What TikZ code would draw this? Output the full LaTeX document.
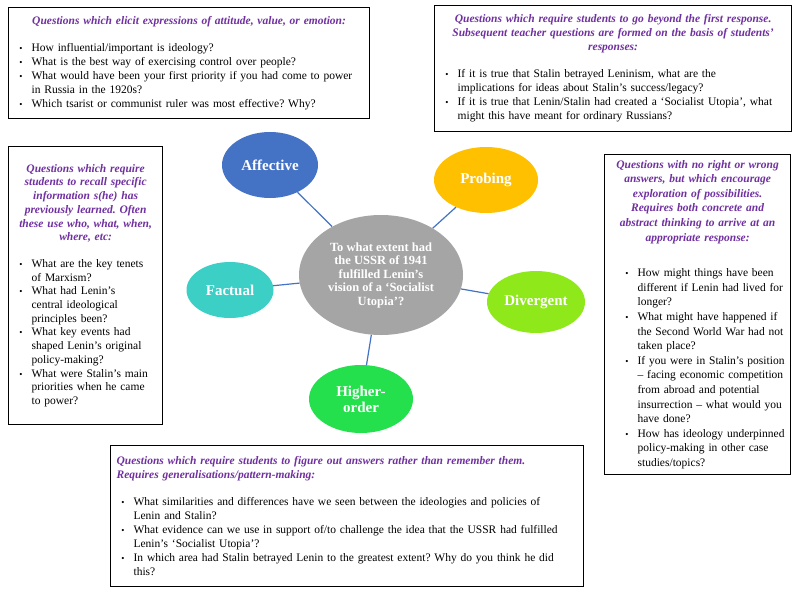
\documentclass[tikz,border=0pt]{standalone}
\usepackage{fontspec}
\setmainfont{Liberation Serif}
\usepackage{enumitem}
\usetikzlibrary{shapes.geometric}
\frenchspacing

\definecolor{qpurple}{HTML}{7030A0}
\definecolor{affblue}{HTML}{4472C4}
\definecolor{probegold}{HTML}{FFC000}
\definecolor{ctrgray}{HTML}{A5A5A5}
\definecolor{factteal}{HTML}{3CCFC6}
\definecolor{divlime}{HTML}{8EE81A}
\definecolor{highgreen}{HTML}{24E04C}

\newlist{qlist}{itemize}{1}
\setlist[qlist]{label={\small\textbullet}, leftmargin=17pt, labelsep=9pt,
  itemsep=0pt, parsep=0pt, topsep=0pt, partopsep=0pt}
\newcommand{\qhead}[1]{{\centering\color{qpurple}\bfseries\itshape #1\par}\vspace{13pt}}
\newcommand{\qheadl}[1]{{\color{qpurple}\bfseries\itshape #1\par}\vspace{13pt}}

\tikzset{
  qbox/.style={draw=black, line width=1.2pt, fill=white, anchor=north west,
    inner xsep=6pt, inner ysep=3pt, align=left,
    font=\fontsize{11.5}{14}\selectfont},
  bubble/.style={ellipse, inner sep=0pt, text=white, align=center,
    font=\bfseries\fontsize{15}{16}\selectfont},
  link/.style={draw=affblue, line width=1.2pt}
}

\begin{document}
\begin{tikzpicture}[x=1pt, y=-1pt]
		\fill[white] (0,0) rectangle (794,594);

		% Question type bubbles
		\node[bubble, fill=ctrgray, minimum width=164pt, minimum height=120pt,
		  font=\bfseries\fontsize{12.5}{13.5}\selectfont] (ctr) at (381,275)
		  {To what extent had\\the USSR of 1941\\fulfilled Lenin's\\vision of a `Socialist\\Utopia'?};
		\node[bubble, fill=affblue, minimum width=96pt, minimum height=66pt] (aff) at (270,165) {Affective};
		\node[bubble, fill=probegold, minimum width=104pt, minimum height=66pt] (probe) at (486,180) {Probing};
		\node[bubble, fill=factteal, minimum width=87pt, minimum height=56pt] (fact) at (230,290) {Factual};
		\node[bubble, fill=divlime, minimum width=98pt, minimum height=62pt] (div) at (536,302) {Divergent};
		\node[bubble, fill=highgreen, minimum width=104pt, minimum height=68pt] (high) at (361,399) {Higher-\\order};

		\draw[link] (ctr) -- (aff);
		\draw[link] (ctr) -- (probe);
		\draw[link] (ctr) -- (fact);
		\draw[link] (ctr) -- (div);
		\draw[link] (ctr) -- (high);

		% Affective questions (top left)
		\node[qbox, text width=349pt, minimum height=111pt] (affq) at (8,7) {%
		  \qhead{Questions which elicit expressions of attitude, value, or emotion:}
		  \begin{qlist}
		  \item How influential/important is ideology?
		  \item What is the best way of exercising control over people?
		  \item What would have been your first priority if you had come to power\\in Russia in the 1920s?
		  \item Which tsarist or communist ruler was most effective? Why?
		  \end{qlist}};

		% Probing questions (top right)
		\node[qbox, text width=345pt, minimum height=126pt] (probeq) at (434,5) {%
		  \qhead{Questions which require students to go beyond the first response.\\Subsequent teacher questions are formed on the basis of students'\\responses:}
		  \begin{qlist}
		  \item If it is true that Stalin betrayed Leninism, what are the\\implications for ideas about Stalin's success/legacy?
		  \item If it is true that Lenin/Stalin had created a `Socialist Utopia', what\\might this have meant for ordinary Russians?
		  \end{qlist}};

		% Factual questions (left)
		\node[qbox, text width=142pt, minimum height=278pt,
		  font=\fontsize{11.5}{13.7}\selectfont] (factq) at (8,146) {%
		  \qhead{Questions which require\\students to recall specific\\information s(he) has\\previously learned. Often\\these use who, what, when,\\where, etc:}
		  \begin{qlist}
		  \item What are the key tenets\\of Marxism?
		  \item What had Lenin's\\central ideological\\principles been?
		  \item What key events had\\shaped Lenin's original\\policy-making?
		  \item What were Stalin's main\\priorities when he came\\to power?
		  \end{qlist}};

		% Divergent questions (right)
		\node[qbox, text width=174pt, minimum height=320pt,
		  font=\fontsize{11.5}{14.6}\selectfont] (divq) at (604,154) {%
		  \qhead{Questions with no right or wrong\\answers, but which encourage\\exploration of possibilities.\\Requires both concrete and\\abstract thinking to arrive at an\\appropriate response:}
		  \vspace{8pt}
		  \begin{qlist}[leftmargin=27pt]
		  \item How might things have been\\different if Lenin had lived for\\longer?
		  \item What might have happened if\\the Second World War had not\\taken place?
		  \item If you were in Stalin's position\\-- facing economic competition\\from abroad and potential\\insurrection -- what would you\\have done?
		  \item How has ideology underpinned\\policy-making in other case\\studies/topics?
		  \end{qlist}};

		% Higher-order questions (bottom)
		\node[qbox, text width=461pt, minimum height=141pt] (highq) at (110,445) {%
		  \qheadl{Questions which require students to figure out answers rather than remember them.\\Requires generalisations/pattern-making:}
		  \begin{qlist}
		  \item What similarities and differences have we seen between the ideologies and policies of\\Lenin and Stalin?
		  \item What evidence can we use in support of/to challenge the idea that the USSR had fulfilled\\Lenin's `Socialist Utopia'?
		  \item In which area had Stalin betrayed Lenin to the greatest extent? Why do you think he did\\this?
		  \end{qlist}};
	\end{tikzpicture}
\end{document}
